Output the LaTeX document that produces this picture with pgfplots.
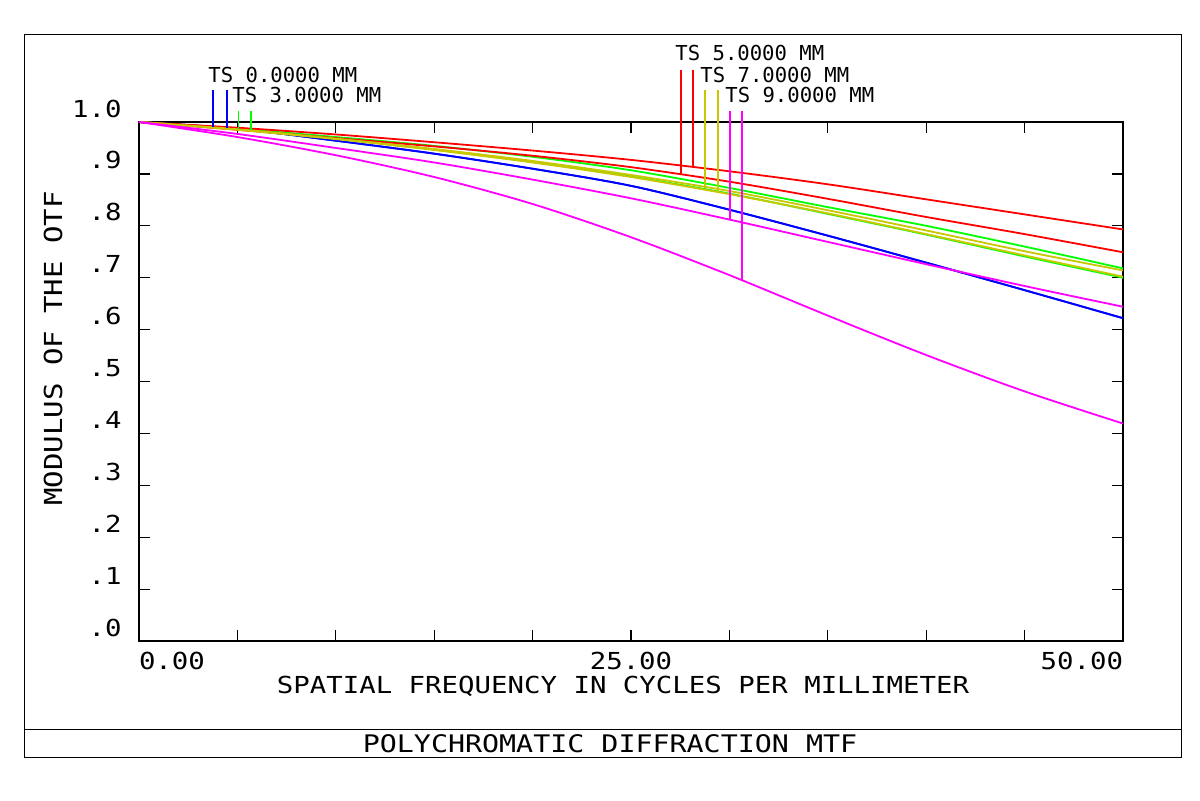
\documentclass[border=0pt]{standalone}
\usepackage{pgfplots}
\pgfplotsset{compat=1.18}
\usepackage{fontspec}
\setmainfont{DejaVu Sans Mono}
\newfontfamily\lab[FakeStretch=1.17]{DejaVu Sans Mono}
\definecolor{zblue}{RGB}{0,0,255}
\definecolor{zgreen}{RGB}{0,255,0}
\definecolor{zred}{RGB}{255,0,0}
\definecolor{zyellow}{RGB}{200,200,0}
\definecolor{zmag}{RGB}{255,0,255}
\newcommand{\labfont}{\lab\fontsize{11.7}{13}\selectfont}
\newcommand{\legfont}{\fontsize{10.3}{12}\selectfont}

\begin{document}
\begin{tikzpicture}
\path[use as bounding box] (0pt,0pt) rectangle (600pt,400pt);
\draw[line width=0.5pt] (12pt,21.5pt) rectangle (590.5pt,382.5pt);
\draw[line width=0.5pt] (12pt,35.5pt) -- (590.5pt,35.5pt);
\node[font=\lab\fontsize{12.1}{13}\selectfont] at (305pt,28.3pt) {POLYCHROMATIC DIFFRACTION MTF};
\node[font=\labfont] at (311.5pt,57pt) {SPATIAL FREQUENCY IN CYCLES PER MILLIMETER};
\node[font=\lab\fontsize{12.4}{13}\selectfont, rotate=90] at (26.5pt,225.8pt) {MODULUS OF THE OTF};

\begin{axis}[
  at={(69.5pt,79.5pt)}, anchor=south west,
  scale only axis, width=492pt, height=259.5pt,
  xmin=0, xmax=50, ymin=0, ymax=1,
  clip=false,
  axis line style={line width=0.75pt},
  tick align=inside,
  major tick length=5.5pt,
  tick style={line width=0.6pt, black},
  xtick={0,5,10,15,20,25,30,35,40,45,50},
  xticklabels={\rlap{0.00},,,,,25.00,,,,,\llap{50.00}},
  ytick={0,0.1,0.2,0.3,0.4,0.5,0.6,0.7,0.8,0.9,1.0},
  yticklabels={.0,.1,.2,.3,.4,.5,.6,.7,.8,.9,1.0},
  xticklabel style={font=\labfont, anchor=north, inner sep=0pt, yshift=-5.5pt},
  yticklabel style={font=\labfont, anchor=base east, inner sep=0pt, xshift=-8.5pt, yshift=2.5pt},
  every axis plot/.append style={line width=0.9pt, no marks},
]
% blue (0 mm, T and S)
\addplot[zblue, smooth] coordinates {(0,1.000) (5,0.987) (10,0.964) (15,0.939) (20,0.910) (25,0.877) (30,0.831) (35,0.781) (40,0.729) (45,0.676) (50,0.622)};
\addplot[zblue, smooth] coordinates {(0,1.000) (5,0.987) (10,0.964) (15,0.939) (20,0.910) (25,0.877) (30,0.831) (35,0.781) (40,0.729) (45,0.676) (50,0.622)};
% green (3 mm)
\addplot[zgreen, smooth] coordinates {(0,1.000) (5,0.987) (10,0.971) (15,0.954) (20,0.933) (25,0.907) (30,0.873) (35,0.836) (40,0.800) (45,0.760) (50,0.718)};
\addplot[zgreen, smooth] coordinates {(0,1.000) (5,0.986) (10,0.968) (15,0.947) (20,0.923) (25,0.895) (30,0.862) (35,0.823) (40,0.783) (45,0.741) (50,0.700)};
% red (5 mm)
\addplot[zred, smooth] coordinates {(0,1.000) (5,0.985) (10,0.969) (15,0.953) (20,0.935) (25,0.913) (30,0.885) (35,0.852) (40,0.817) (45,0.784) (50,0.749)};
\addplot[zred, smooth] coordinates {(0,1.000) (5,0.989) (10,0.976) (15,0.961) (20,0.945) (25,0.927) (30,0.905) (35,0.880) (40,0.851) (45,0.822) (50,0.793)};
% yellow (7 mm)
\addplot[zyellow, smooth] coordinates {(0,1.000) (5,0.986) (10,0.968) (15,0.948) (20,0.925) (25,0.898) (30,0.867) (35,0.830) (40,0.791) (45,0.751) (50,0.714)};
\addplot[zyellow, smooth] coordinates {(0,1.000) (5,0.985) (10,0.967) (15,0.946) (20,0.922) (25,0.894) (30,0.861) (35,0.824) (40,0.784) (45,0.743) (50,0.702)};
% magenta (9 mm)
\addplot[zmag, smooth] coordinates {(0,1.000) (5,0.977) (10,0.950) (15,0.922) (20,0.889) (25,0.853) (30,0.812) (35,0.769) (40,0.726) (45,0.684) (50,0.644)};
\addplot[zmag, smooth] coordinates {(0,1.000) (5,0.971) (10,0.936) (15,0.894) (20,0.842) (25,0.778) (30,0.705) (35,0.627) (40,0.551) (45,0.481) (50,0.419)};

% legend marker lines
\addplot[zblue, line width=0.6pt] coordinates {(3.76,1.062) (3.76,0.990)};
\addplot[zblue, line width=0.6pt] coordinates {(4.47,1.062) (4.47,0.988)};
\addplot[zgreen, line width=0.6pt] coordinates {(5.05,1.022) (5.05,0.987)};
\addplot[zgreen, line width=0.6pt] coordinates {(5.69,1.022) (5.69,0.984)};
\addplot[zred, line width=0.6pt] coordinates {(27.54,1.101) (27.54,0.899)};
\addplot[zred, line width=0.6pt] coordinates {(28.15,1.101) (28.15,0.913)};
\addplot[zyellow, line width=0.6pt] coordinates {(28.76,1.062) (28.76,0.873)};
\addplot[zyellow, line width=0.6pt] coordinates {(29.42,1.062) (29.42,0.864)};
\addplot[zmag, line width=0.6pt] coordinates {(30.03,1.021) (30.03,0.812)};
\addplot[zmag, line width=0.6pt] coordinates {(30.64,1.021) (30.64,0.695)};

\node[anchor=base west, inner sep=0pt, font=\legfont] at (axis cs:3.506,1.077) {TS 0.0000 MM};
\node[anchor=base west, inner sep=0pt, font=\legfont] at (axis cs:4.726,1.037) {TS 3.0000 MM};
\node[anchor=base west, inner sep=0pt, font=\legfont] at (axis cs:27.236,1.118) {TS 5.0000 MM};
\node[anchor=base west, inner sep=0pt, font=\legfont] at (axis cs:28.506,1.077) {TS 7.0000 MM};
\node[anchor=base west, inner sep=0pt, font=\legfont] at (axis cs:29.776,1.037) {TS 9.0000 MM};
\end{axis}
\end{tikzpicture}
\end{document}
